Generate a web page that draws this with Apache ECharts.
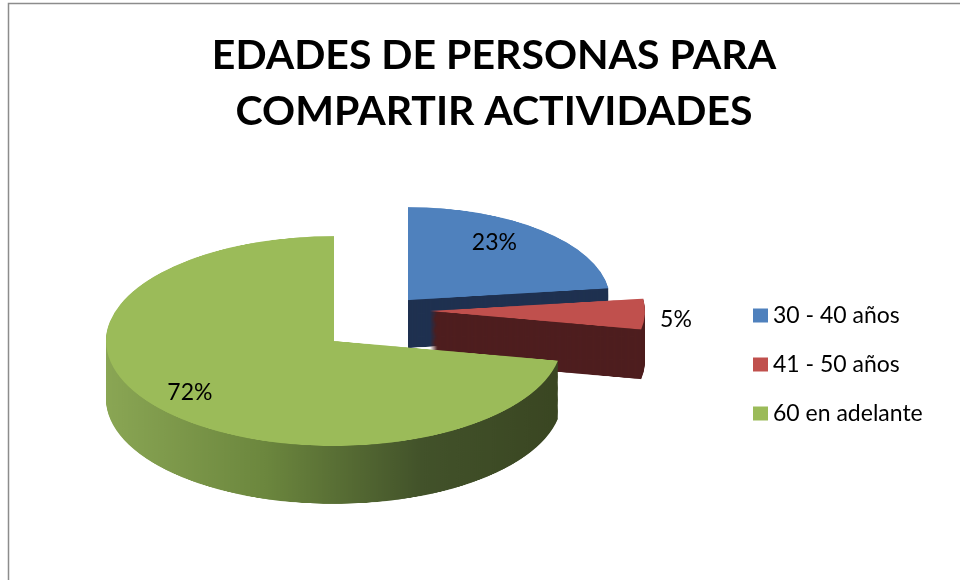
<!DOCTYPE html>
<html><head><meta charset="utf-8">
<script src="https://cdn.jsdelivr.net/npm/echarts@6/dist/echarts.min.js"></script>
<style>
html,body{margin:0;padding:0;background:#fff;overflow:hidden;width:960px;height:580px;}
#a{position:absolute;left:0;top:0;width:960px;transform-origin:0 0;}
#b{position:absolute;left:0;top:0;width:960px;height:580px;}
</style></head><body>
<div id="a"></div><div id="b"></div>
<script>
// ---- data ----
const categories = ['30 - 40 años', '41 - 50 años', '60 en adelante'];
const values = [23, 5, 72];
const titleText = 'EDADES DE PERSONAS PARA\nCOMPARTIR ACTIVIDADES';

// ---- layout / style ----
const S = 0.46;          // vertical squash of the tilted pie
const STEP = 2;          // wall layer step (pre-squash px)
const topColors = ['#4f81bd', '#c0504d', '#9bbb59'];
const sideColors = [
  '#1f3150',
  '#4e1e1f',
  new echarts.graphic.LinearGradient(0, 0, 1, 0, [
    {offset: 0, color: '#8aa654'},
    {offset: 0.35, color: '#6c873e'},
    {offset: 0.7, color: '#42522a'},
    {offset: 1, color: '#3a4622'}
  ])
];
const sliceLayout = [
  {cx: 408, cy: 300, r: 202, depth: 48},
  {cx: 430, cy: 311, r: 215, depth: 50},
  {cx: 334, cy: 341, r: 228, depth: 58}
];
const labelCenter = [334, 340], labelRadius = 228;
const labelOffsets = [[83, -10], [225, -24], [-54, -22]];
const FONT = 'Lato';

// ---- tilted pie (squashed chart) ----
const divA = document.getElementById('a');
divA.style.height = (580 / S) + 'px';
divA.style.transform = 'scaleY(' + S + ')';
const chartA = echarts.init(divA, null, {renderer: 'canvas'});

function pieLayer(i, cyPre, color, z) {
  const L = sliceLayout[i];
  return {
    type: 'pie', silent: true, animation: false, z: z,
    startAngle: 90, clockwise: true,
    center: [L.cx, cyPre], radius: L.r,
    label: {show: false}, labelLine: {show: false},
    emphasis: {disabled: true},
    itemStyle: {borderWidth: 0},
    data: values.map((v, j) => ({
      name: categories[j], value: v,
      itemStyle: {color: j === i ? color : 'rgba(0,0,0,0)', borderWidth: 0}
    }))
  };
}
const seriesA = [];
[0, 1, 2].forEach((i, order) => {
  const base = sliceLayout[i].cy / S;
  const nLayers = Math.round(sliceLayout[i].depth / S / STEP);
  for (let k = nLayers; k >= 1; k--) {
    seriesA.push(pieLayer(i, base + k * STEP, sideColors[i], 1 + order));
  }
});
[0, 1, 2].forEach(i => {
  seriesA.push(pieLayer(i, sliceLayout[i].cy / S, topColors[i], 10));
});
chartA.setOption({backgroundColor: '#fff', animation: false, series: seriesA});

// ---- overlay: title, legend, labels, border ----
const chartB = echarts.init(document.getElementById('b'), null, {renderer: 'canvas'});
chartB.setOption({
  backgroundColor: 'transparent',
  animation: false,
  title: {
    text: titleText, left: 489, top: 23, textAlign: 'center',
    textStyle: {fontFamily: FONT, fontWeight: 'bold', fontSize: 41, lineHeight: 56, color: '#000'}
  },
  legend: {
    orient: 'vertical', left: 753, top: 304, padding: 0,
    itemWidth: 15, itemHeight: 14, itemGap: 26, icon: 'rect',
    textStyle: {fontFamily: FONT, fontSize: 23, color: '#000'},
    data: categories.map((c, i) => ({name: c, itemStyle: {color: topColors[i], opacity: 1, borderWidth: 0}}))
  },
  graphic: [{
    type: 'rect', silent: true,
    shape: {x: 8.5, y: 3.5, width: 1000, height: 1000},
    style: {fill: 'none', stroke: '#8c8c8c', lineWidth: 1.5}
  }],
  series: [{
    type: 'pie', silent: true, startAngle: 90, clockwise: true,
    center: labelCenter, radius: labelRadius,
    itemStyle: {borderWidth: 0},
    labelLine: {show: false},
    emphasis: {disabled: true},
    data: values.map((v, j) => ({
      name: categories[j], value: v,
      itemStyle: {color: topColors[j], opacity: 0},
      label: {show: true, position: 'inside', formatter: '{d}%', offset: labelOffsets[j],
        fontFamily: FONT, fontSize: 23, color: '#000', opacity: 1}
    }))
  }]
});
</script>
</body></html>
